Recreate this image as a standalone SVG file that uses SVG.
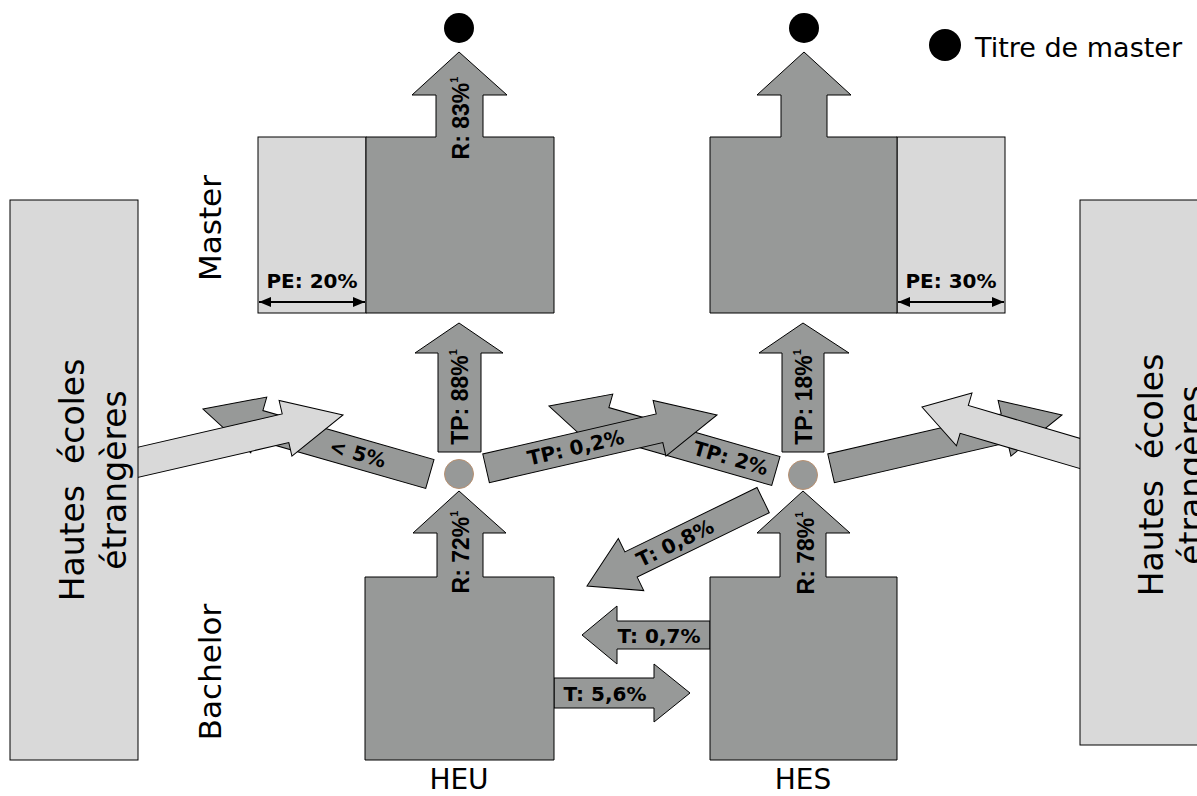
<svg xmlns="http://www.w3.org/2000/svg" width="1197" height="796" viewBox="0 0 1197 796">
<style>
.dk{fill:#979998;stroke:#000;stroke-width:1}
.lt{fill:#d9d9d9;stroke:#000;stroke-width:1}
.dot{fill:#979998;stroke:#b89070;stroke-width:1}
.blk{fill:#000}
.hum{font-family:"DejaVu Sans",sans-serif;fill:#000}
.lbl{font-family:"DejaVu Sans",sans-serif;font-weight:bold;font-size:20px;fill:#000}
.vl{font-family:"Liberation Sans",Arial,sans-serif;font-weight:bold;font-size:23px;fill:#000}
.sup{font-size:11px}
</style>
<defs>
<marker id="ah" viewBox="0 0 12 10" refX="12" refY="5" markerWidth="12" markerHeight="10" markerUnits="userSpaceOnUse" orient="auto-start-reverse">
<path d="M0,0 L12,5 L0,10 Z" fill="#000"/>
</marker>
</defs>

<g id="connectors">
<g id="arr-lt5">
<polygon class="dk" transform="translate(203,409) rotate(16)" points="0,0 58,-29 58,-15 236,-15 236,15 58,15 58,29"/>
<text class="lbl" transform="translate(203,409) rotate(16)" x="161" y="7" text-anchor="middle">&lt; 5%</text>
</g>
<g id="arr-tp2">
<polygon class="dk" transform="translate(549,406) rotate(16)" points="0,0 58,-29 58,-15 236,-15 236,15 58,15 58,29"/>
<text class="lbl" transform="translate(549,406) rotate(16)" x="189" y="7" text-anchor="middle">TP: 2%</text>
</g>
<g id="arr-hes-out">
<polygon class="dk" transform="translate(1062,415) rotate(-13)" points="0,0 -59,-28.5 -59,-14.7 -237,-14.7 -237,14.7 -59,14.7 -59,28.5"/>
</g>
<g id="arr-in-heu">
<polygon class="lt" transform="translate(343,415) rotate(-13)" points="0,0 -59,-28.5 -59,-14.7 -222,-14.7 -222,14.7 -59,14.7 -59,28.5"/>
</g>
<g id="arr-tp02">
<polygon class="dk" transform="translate(717,415) rotate(-13)" points="0,0 -59,-28.5 -59,-14.7 -237,-14.7 -237,14.7 -59,14.7 -59,28.5"/>
<text class="lbl" transform="translate(717,415) rotate(-13)" x="-145" y="7" text-anchor="middle">TP: 0,2%</text>
</g>
<g id="arr-in-hes">
<polygon class="lt" transform="translate(922,407) rotate(16.4)" points="0,0 44,-27.5 44,-14.5 180,-14.5 180,14.5 44,14.5 44,27.5"/>
</g>
<g id="arr-t08">
<polygon class="dk" transform="translate(587,586) rotate(-26)" points="0,0 49,-29 49,-14 196,-14 196,14 49,14 49,29"/>
<text class="lbl" transform="translate(587,586) rotate(-26)" x="98" y="7" text-anchor="middle">T: 0,8%</text>
</g>
<g id="arr-t07">
<polygon class="dk" points="710,621 617,621 617,606 582,635 617,664 617,649 710,649"/>
<text class="lbl" x="659" y="643" text-anchor="middle">T: 0,7%</text>
</g>
<g id="arr-t56">
<polygon class="dk" points="554,678 654,678 654,664 690,693 654,722 654,708 554,708"/>
<text class="lbl" x="605" y="701" text-anchor="middle">T: 5,6%</text>
</g>
<g id="arr-tp88">
<polygon class="dk" points="438,452 438,353 415,353 459,323 503,353 481,353 481,452"/>
<text class="vl" transform="translate(468,397) rotate(-90)" text-anchor="middle">TP: 88%<tspan class="sup" dy="-11">1</tspan></text>
</g>
<g id="arr-tp18">
<polygon class="dk" points="782,452 782,353 759,353 803,323 849,353 824,353 824,452"/>
<text class="vl" transform="translate(812,397) rotate(-90)" text-anchor="middle">TP: 18%<tspan class="sup" dy="-11">1</tspan></text>
</g>
</g>

<g id="foreign-left">
<rect class="lt" x="10" y="200" width="128" height="560"/>
<text class="hum" font-size="33" transform="translate(84,480) rotate(-90)" text-anchor="middle" style="white-space:pre">Hautes  écoles</text>
<text class="hum" font-size="33" transform="translate(126,480) rotate(-90)" text-anchor="middle">étrangères</text>
</g>

<g id="foreign-right">
<rect class="lt" x="1080" y="200" width="130" height="545"/>
<text class="hum" font-size="33" transform="translate(1163,475) rotate(-90)" text-anchor="middle" style="white-space:pre">Hautes  écoles</text>
<text class="hum" font-size="33" transform="translate(1203,475) rotate(-90)" text-anchor="middle">étrangères</text>
</g>

<g id="master-heu">
<rect class="lt" x="258" y="137" width="108" height="176"/>
<path class="dk" d="M366,137 L436,137 L436,95 L412,95 L459,52 L507,95 L483,95 L483,137 L554,137 L554,313 L366,313 Z"/>
<text class="vl" transform="translate(469,118) rotate(-90)" text-anchor="middle">R: 83%<tspan class="sup" dy="-11">1</tspan></text>
<text class="lbl" font-size="19" x="312" y="288" text-anchor="middle">PE: 20%</text>
<line x1="259" y1="302" x2="365" y2="302" stroke="#000" stroke-width="2" marker-start="url(#ah)" marker-end="url(#ah)"/>
<circle class="blk" cx="459" cy="28" r="15"/>
</g>

<g id="master-hes">
<rect class="lt" x="897" y="137" width="108" height="176"/>
<path class="dk" d="M710,137 L781,137 L781,95 L757,95 L804,52 L851,95 L827,95 L827,137 L897,137 L897,313 L710,313 Z"/>
<text class="lbl" font-size="19" x="951" y="288" text-anchor="middle">PE: 30%</text>
<line x1="898" y1="302" x2="1004" y2="302" stroke="#000" stroke-width="2" marker-start="url(#ah)" marker-end="url(#ah)"/>
<circle class="blk" cx="804" cy="28" r="15"/>
</g>

<g id="bachelor-heu">
<path class="dk" d="M365,577 L437,577 L437,533 L413,533 L459,491 L506,533 L483,533 L483,577 L554,577 L554,760 L365,760 Z"/>
<text class="vl" transform="translate(469,552) rotate(-90)" text-anchor="middle">R: 72%<tspan class="sup" dy="-11">1</tspan></text>
<circle class="dot" cx="459" cy="474" r="14.5"/>
</g>

<g id="bachelor-hes">
<path class="dk" d="M710,577 L780,577 L780,533 L757,533 L803,491 L850,533 L826,533 L826,577 L897,577 L897,760 L710,760 Z"/>
<text class="vl" transform="translate(814,553) rotate(-90)" text-anchor="middle">R: 78%<tspan class="sup" dy="-11">1</tspan></text>
<circle class="dot" cx="803" cy="475" r="14.5"/>
</g>

<g id="labels">
<text class="hum" font-size="31" transform="translate(221,228) rotate(-90)" text-anchor="middle">Master</text>
<text class="hum" font-size="31" transform="translate(221,672) rotate(-90)" text-anchor="middle">Bachelor</text>
<text class="hum" font-size="28" x="459" y="789" text-anchor="middle">HEU</text>
<text class="hum" font-size="28" x="803" y="789" text-anchor="middle">HES</text>
</g>

<g id="legend">
<circle class="blk" cx="945" cy="45" r="16"/>
<text class="hum" font-size="27" x="975" y="57">Titre de master</text>
</g>
</svg>
